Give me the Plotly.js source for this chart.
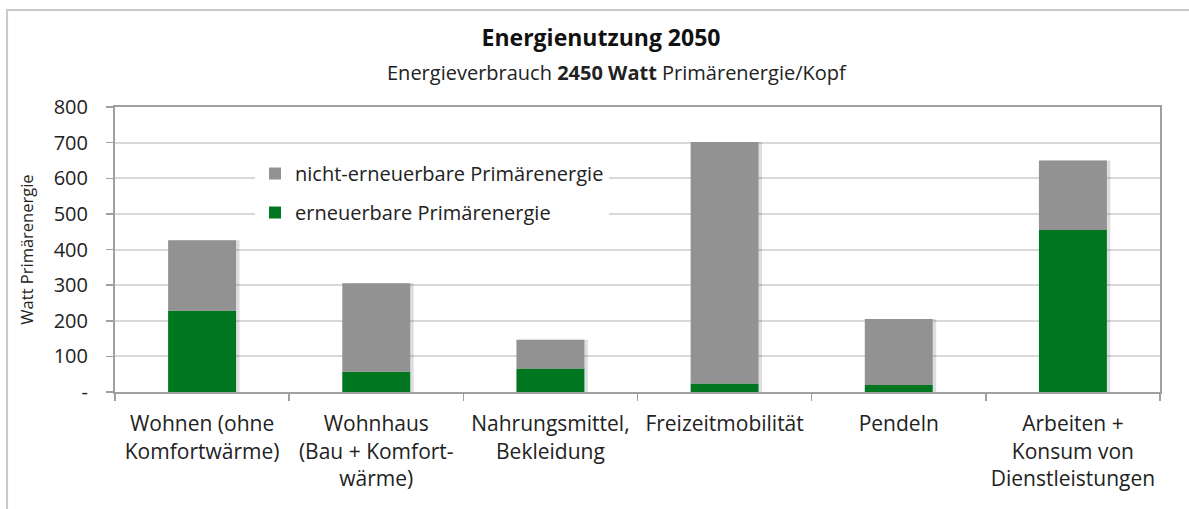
<!DOCTYPE html>
<html>
<head>
<meta charset="utf-8">
<script src="https://cdn.plot.ly/plotly-3.0.1.min.js"></script>
<style>
html,body{margin:0;padding:0;background:#fff;}
#chart{width:1189px;height:509px;}
</style>
</head>
<body>
<div id="chart"></div>
<script>
const categories = [
  "Wohnen (ohne<br>Komfortwärme)",
  "Wohnhaus<br>(Bau + Komfort-<br>wärme)",
  "Nahrungsmittel,<br>Bekleidung",
  "Freizeitmobilität",
  "Pendeln",
  "Arbeiten +<br>Konsum von<br>Dienstleistungen"
];
const renewable = [228, 57, 66, 24, 20, 455];
const nonRenewable = [198, 248, 81, 678, 185, 195];
const seriesNames = ["erneuerbare Primärenergie", "nicht-erneuerbare Primärenergie"];
const yTickVals = [0, 100, 200, 300, 400, 500, 600, 700, 800];
const yTickText = ["-", "100", "200", "300", "400", "500", "600", "700", "800"];

const totals = renewable.map((v, i) => v + nonRenewable[i]);

const FONT = "'Open Sans', 'Noto Sans', sans-serif";
const GREEN = "#007620";
const GREY = "#929292";
const BW = 0.39;

const traces = [
  {
    type: "bar", x: categories, y: totals, base: 0,
    width: BW, offset: -BW / 2 + 0.02,
    marker: {color: "rgba(0,0,0,0.13)", line: {width: 0}},
    showlegend: false, hoverinfo: "skip"
  },
  {
    type: "bar", name: seriesNames[0], legendgroup: "g1", legendrank: 2,
    x: categories, y: renewable, base: 0,
    width: BW, offset: -BW / 2,
    marker: {color: GREEN, line: {width: 0}}
  },
  {
    type: "bar", name: seriesNames[1], legendgroup: "g2", legendrank: 1,
    x: categories, y: nonRenewable, base: renewable,
    width: BW, offset: -BW / 2,
    marker: {color: GREY, line: {width: 0}}
  }
];

const layout = {
  width: 1189, height: 509,
  margin: {l: 115, r: 29, t: 107, b: 117},
  paper_bgcolor: "#fff", plot_bgcolor: "#fff",
  barmode: "overlay",
  font: {family: FONT, color: "#222", size: 16},
  title: {
    text: "<b>Energienutzung 2050</b>",
    font: {family: FONT, size: 23, color: "#111"},
    x: 0.5055, xanchor: "center", y: 0.925, yanchor: "middle", yref: "container"
  },
  annotations: [{
    text: "Energieverbrauch <b>2450 Watt</b> Primärenergie/Kopf",
    xref: "paper", yref: "paper", x: 0.480, y: 1.12,
    xanchor: "center", yanchor: "middle", showarrow: false,
    font: {family: FONT, size: 20, color: "#222"}
  }],
  xaxis: {
    type: "category",
    tickson: "boundaries", ticks: "outside", ticklen: 7, tickcolor: "#a0a0a0", tickwidth: 1.5,
    showline: true, linecolor: "#a0a0a0", linewidth: 2, mirror: true,
    showgrid: false, zeroline: false,
    tickfont: {family: FONT, size: 21, color: "#222"},
    ticklabelstandoff: 12,
    fixedrange: true
  },
  yaxis: {
    range: [0, 800],
    tickvals: yTickVals, ticktext: yTickText,
    ticks: "outside", ticklen: 7, tickcolor: "#a0a0a0", tickwidth: 1.5,
    showline: true, linecolor: "#a0a0a0", linewidth: 2, mirror: true,
    showgrid: true, gridcolor: "#d9d9d9", gridwidth: 2,
    zeroline: false,
    tickfont: {family: FONT, size: 20, color: "#222"},
    ticklabelstandoff: 14,
    title: {text: "Watt Primärenergie", font: {family: FONT, size: 16.5, color: "#222"}, standoff: 16},
    fixedrange: true
  },
  legend: {
    x: 0.134, y: 0.835, xanchor: "left", yanchor: "top",
    bgcolor: "#fff", borderwidth: 0,
    traceorder: "grouped",
    font: {family: FONT, size: 20, color: "#222"},
    itemwidth: 30, tracegroupgap: 10
  },
  shapes: [{
    type: "rect", xref: "paper", yref: "paper",
    x0: -0.1033, x1: 1.1, y0: -0.6, y1: 1.340,
    line: {color: "#c8c8c8", width: 2}, fillcolor: "rgba(0,0,0,0)", layer: "below"
  }],
  showlegend: true
};

Plotly.newPlot("chart", traces, layout, {displayModeBar: false, staticPlot: true});
</script>
</body>
</html>
